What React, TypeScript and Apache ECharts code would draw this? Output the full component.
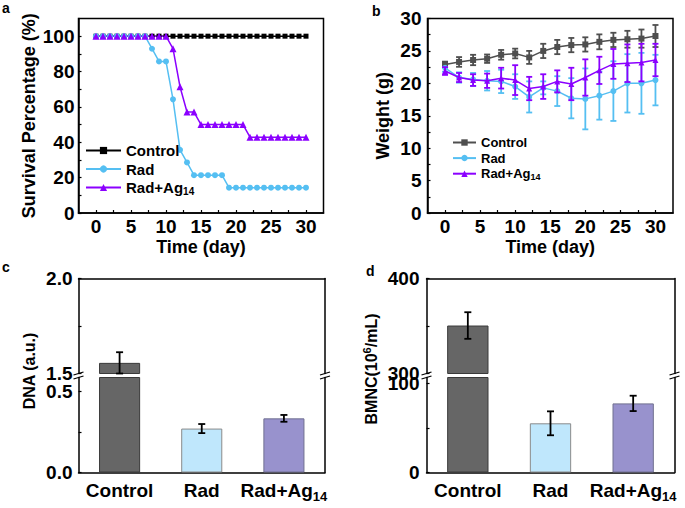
import React, { useEffect, useRef } from 'react';
import * as echarts from 'echarts';

const FONT = "'Liberation Sans', Arial, Helvetica, sans-serif";
const BLACK = '#000000';

// ---------- Panel a: survival ----------
const survivalDays = [0, 1, 2, 3, 4, 5, 6, 7, 8, 9, 10, 11, 12, 13, 14, 15, 16, 17, 18, 19, 20, 21, 22, 23, 24, 25, 26, 27, 28, 29, 30];
const survivalControl = [100, 100, 100, 100, 100, 100, 100, 100, 100, 100, 100, 100, 100, 100, 100, 100, 100, 100, 100, 100, 100, 100, 100, 100, 100, 100, 100, 100, 100, 100, 100];
const survivalRad = [100, 100, 100, 100, 100, 100, 100, 100, 92.9, 85.7, 85.7, 64.3, 35.7, 28.6, 21.4, 21.4, 21.4, 21.4, 21.4, 14.3, 14.3, 14.3, 14.3, 14.3, 14.3, 14.3, 14.3, 14.3, 14.3, 14.3, 14.3];
const survivalRadAg = [100, 100, 100, 100, 100, 100, 100, 100, 100, 100, 100, 92.9, 71.4, 57.1, 57.1, 50, 50, 50, 50, 50, 50, 50, 42.9, 42.9, 42.9, 42.9, 42.9, 42.9, 42.9, 42.9, 42.9];
const timeLabels = [0, 5, 10, 15, 20, 25, 30];
const timeTicks = [0, 2.5, 5, 7.5, 10, 12.5, 15, 17.5, 20, 22.5, 25, 27.5, 30];
const survivalYLabels = [0, 20, 40, 60, 80, 100];
const survivalYTicks = [0, 10, 20, 30, 40, 50, 60, 70, 80, 90, 100];

// ---------- Panel b: weight ----------
const weightDays = [0, 2, 4, 6, 8, 10, 12, 14, 16, 18, 20, 22, 24, 26, 28, 30];
const weightControl = [22.9, 23.3, 23.6, 23.8, 24.4, 24.6, 24.0, 25.0, 25.6, 25.9, 26.0, 26.4, 26.7, 26.8, 26.9, 27.3];
const weightControlErr = [0.45, 0.75, 0.8, 0.65, 0.75, 0.75, 1.0, 1.1, 1.1, 1.1, 1.1, 1.15, 1.1, 1.3, 1.4, 1.7];
const weightRad = [22.4, 20.9, 20.6, 20.4, 20.3, 19.5, 17.9, 19.3, 18.8, 17.7, 17.6, 18.1, 18.8, 20.0, 20.0, 20.5];
const weightRadErr = [0.6, 0.8, 1.0, 1.5, 1.8, 1.9, 2.4, 1.0, 2.3, 3.1, 4.7, 3.7, 4.6, 4.5, 4.7, 3.9];
const weightRadAg = [21.9, 20.9, 20.5, 20.4, 20.8, 20.5, 19.2, 19.5, 20.3, 19.9, 20.9, 22.0, 23.0, 23.1, 23.2, 23.6];
const weightRadAgErr = [0.6, 0.7, 0.9, 1.1, 1.6, 2.3, 1.8, 1.9, 1.7, 2.5, 2.8, 2.1, 2.3, 2.9, 2.9, 2.5];
const weightYLabels = [0, 5, 10, 15, 20, 25, 30];
const weightYTicks = [0, 2.5, 5, 7.5, 10, 12.5, 15, 17.5, 20, 22.5, 25, 27.5, 30];

// ---------- Panels c, d: bars ----------
const groups = ['Control', 'Rad', 'Rad+Ag14'];
const dnaValues = [1.556, 0.271, 0.334];
const dnaErrors = [0.056, 0.028, 0.021];
const dnaUpperLabels = [1.5, 2.0];
const dnaUpperTicks = [1.5, 1.75, 2.0];
const dnaLowerLabels = [0, 0.5];
const dnaLowerTicks = [0, 0.25, 0.5];
const bmncValues = [350.5, 55.1, 77.4];
const bmncErrors = [14, 13.4, 8.6];
const bmncUpperLabels = [300, 400];
const bmncUpperTicks = [300, 350, 400];
const bmncLowerLabels = [0, 100];
const bmncLowerTicks = [0, 50, 100];

const barFills = ['#666666', '#BFE7FC', '#9892CD'];
const barBorders = ['#3a3a3a', '#8a8a8a', '#707090'];

const COL_CTRL_A = '#000000';
const COL_CTRL_B = '#4f4f4f';
const COL_RAD = '#55BFF2';
const COL_AG = '#8B00FF';

function buildOption() {
  const lbl = (size: number, extra: any = {}) => ({
    color: BLACK, fontFamily: FONT, fontWeight: 'bold', fontSize: size, ...extra,
  });
  const axLine = { show: true, onZero: false, lineStyle: { color: BLACK, width: 1.5 } };
  const noLine = { show: false };
  const tick = (vals: number[]) => ({ show: true, inside: true, length: 3, customValues: vals, lineStyle: { color: BLACK, width: 1.2 } });

  const legendFmt = (name: string) => {
    const n = name.trim();
    return n === 'Rad+Ag14' ? '{n|Rad+Ag}{s|14}' : `{n|${n}}`;
  };
  const catFmt = (v: string) => (v === 'Rad+Ag14' ? '{n|Rad+Ag}{s|14}' : `{n|${v}}`);
  const catRich = {
    n: { fontSize: 19, fontWeight: 'bold', fontFamily: FONT, color: BLACK, lineHeight: 24 },
    s: { fontSize: 13, fontWeight: 'bold', fontFamily: FONT, color: BLACK, verticalAlign: 'bottom', lineHeight: 13 },
  };

  const errSeries = (
    xi: number, yi: number, data: number[][], color: string, lw: number, cap: number, lo: number, hi: number, name: string,
  ) => ({
    type: 'custom', name, xAxisIndex: xi, yAxisIndex: yi, data, z: 4,
    encode: { x: 0, y: [1, 2] },
    renderItem: (_p: any, api: any) => {
      const mean = api.value(3);
      if (!(mean >= lo && mean <= hi)) return null;
      const x = api.value(0);
      const top = api.coord([x, api.value(2)]);
      const bot = api.coord([x, api.value(1)]);
      const st = { stroke: color, lineWidth: lw };
      return {
        type: 'group',
        children: [
          { type: 'line', shape: { x1: top[0], y1: top[1], x2: bot[0], y2: bot[1] }, style: st },
          { type: 'line', shape: { x1: top[0] - cap, y1: top[1], x2: top[0] + cap, y2: top[1] }, style: st },
          { type: 'line', shape: { x1: bot[0] - cap, y1: bot[1], x2: bot[0] + cap, y2: bot[1] }, style: st },
        ],
      };
    },
  });

  const wErr = (vals: number[], errs: number[]) => weightDays.map((d, i) => [d, vals[i] - errs[i], vals[i] + errs[i], vals[i]]);
  const bErr = (vals: number[], errs: number[]) => groups.map((_g, i) => [i, vals[i] - errs[i], vals[i] + errs[i], vals[i]]);

  const barData = (vals: number[], minShown: number) => vals.map((v, i) => ({
    value: v >= minShown ? v : '-',
    itemStyle: { color: barFills[i], borderColor: barBorders[i], borderWidth: 1 },
  }));

  const dnaUpper = [1.5, 2.0];
  const dnaLower = [0, 0.586];
  const bmncUpper = [300, 400];
  const bmncLower = [0, 106.4];

  const breakMarks: any[] = [];
  [78.5, 325, 426.5, 674.5].forEach((ax) => {
    breakMarks.push({ type: 'line', shape: { x1: ax - 5, y1: 375, x2: ax + 5, y2: 372 }, style: { stroke: BLACK, lineWidth: 1.3 } });
    breakMarks.push({ type: 'line', shape: { x1: ax - 5, y1: 379, x2: ax + 5, y2: 376 }, style: { stroke: BLACK, lineWidth: 1.3 } });
  });

  const letter = (t: string, x: number, y: number) => ({
    type: 'text', x, y, style: { text: t, fontSize: 14, fontWeight: 'bold', fontFamily: FONT, fill: BLACK, align: 'left', verticalAlign: 'middle' },
  });

  const gridBase = { outerBoundsMode: 'none', containLabel: false };
  const catLabel = { formatter: catFmt, rich: catRich, margin: 6, color: BLACK, interval: 0, hideOverlap: false };

  return {
    animation: false,
    backgroundColor: '#ffffff',
    textStyle: { fontFamily: FONT },
    grid: [
      { ...gridBase, left: 78.5, top: 18.5, width: 245, height: 194.5, show: true, borderColor: BLACK, borderWidth: 1.5, backgroundColor: 'transparent' },
      { ...gridBase, left: 427.5, top: 18.5, width: 245.5, height: 194.5, show: true, borderColor: BLACK, borderWidth: 1.5, backgroundColor: 'transparent' },
      { ...gridBase, left: 78.5, top: 278.5, width: 246.5, height: 95 },
      { ...gridBase, left: 78.5, top: 377.5, width: 246.5, height: 95 },
      { ...gridBase, left: 426.5, top: 278.5, width: 248, height: 95 },
      { ...gridBase, left: 426.5, top: 377.5, width: 248, height: 95 },
    ],
    xAxis: [
      {
        gridIndex: 0, type: 'value', min: -2.5, max: 32.5, position: 'bottom',
        axisLine: axLine, axisTick: tick(timeTicks), splitLine: { show: false },
        axisLabel: { customValues: timeLabels, margin: 4, ...lbl(19) },
        name: 'Time (day)', nameLocation: 'middle', nameGap: 25, nameTextStyle: lbl(18),
      },
      {
        gridIndex: 1, type: 'value', min: -2.5, max: 32.5, position: 'bottom',
        axisLine: axLine, axisTick: tick(timeTicks), splitLine: { show: false },
        axisLabel: { customValues: timeLabels, margin: 4, ...lbl(19) },
        name: 'Time (day)', nameLocation: 'middle', nameGap: 25, nameTextStyle: lbl(18),
      },
      { gridIndex: 2, type: 'category', data: groups, position: 'bottom', axisLine: noLine, axisTick: { show: false }, axisLabel: { show: false }, splitLine: { show: false } },
      {
        gridIndex: 3, type: 'category', data: groups, position: 'bottom', axisLine: axLine, axisTick: { show: false }, splitLine: { show: false },
        axisLabel: catLabel,
      },
      { gridIndex: 4, type: 'category', data: groups, position: 'bottom', axisLine: noLine, axisTick: { show: false }, axisLabel: { show: false }, splitLine: { show: false } },
      {
        gridIndex: 5, type: 'category', data: groups, position: 'bottom', axisLine: axLine, axisTick: { show: false }, splitLine: { show: false },
        axisLabel: catLabel,
      },
      { gridIndex: 2, type: 'category', data: groups, position: 'top', axisLine: axLine, axisTick: { show: false }, axisLabel: { show: false }, splitLine: { show: false } },
      { gridIndex: 4, type: 'category', data: groups, position: 'top', axisLine: axLine, axisTick: { show: false }, axisLabel: { show: false }, splitLine: { show: false } },
    ],
    yAxis: [
      {
        gridIndex: 0, type: 'value', min: 0, max: 110, position: 'left',
        axisLine: axLine, axisTick: tick(survivalYTicks), splitLine: { show: false },
        axisLabel: { customValues: survivalYLabels, margin: 4, ...lbl(19) },
        name: 'Survival Percentage (%)', nameLocation: 'middle', nameGap: 41, nameTextStyle: lbl(18),
      },
      {
        gridIndex: 1, type: 'value', min: 0, max: 30, position: 'left',
        axisLine: axLine, axisTick: tick(weightYTicks), splitLine: { show: false },
        axisLabel: { customValues: weightYLabels, margin: 6, ...lbl(19) },
        name: 'Weight (g)', nameLocation: 'middle', nameGap: 36, nameTextStyle: lbl(18),
      },
      {
        gridIndex: 2, type: 'value', min: dnaUpper[0], max: dnaUpper[1], position: 'left',
        axisLine: axLine, axisTick: tick(dnaUpperTicks), splitLine: { show: false },
        axisLabel: { customValues: dnaUpperLabels, margin: 6, formatter: (v: number) => v.toFixed(1), ...lbl(19) },
      },
      {
        gridIndex: 3, type: 'value', min: dnaLower[0], max: dnaLower[1], position: 'left',
        axisLine: axLine, axisTick: tick(dnaLowerTicks), splitLine: { show: false },
        axisLabel: { customValues: dnaLowerLabels, margin: 6, formatter: (v: number) => v.toFixed(1), ...lbl(19) },
      },
      {
        gridIndex: 4, type: 'value', min: bmncUpper[0], max: bmncUpper[1], position: 'left',
        axisLine: axLine, axisTick: tick(bmncUpperTicks), splitLine: { show: false },
        axisLabel: { customValues: bmncUpperLabels, margin: 7, formatter: (v: number) => String(v), ...lbl(19) },
      },
      {
        gridIndex: 5, type: 'value', min: bmncLower[0], max: bmncLower[1], position: 'left',
        axisLine: axLine, axisTick: tick(bmncLowerTicks), splitLine: { show: false },
        axisLabel: { customValues: bmncLowerLabels, margin: 7, formatter: (v: number) => String(v), ...lbl(19) },
      },
      { gridIndex: 2, type: 'value', min: 0, max: 1, position: 'right', axisLine: axLine, axisTick: { show: false }, axisLabel: { show: false }, splitLine: { show: false } },
      { gridIndex: 3, type: 'value', min: 0, max: 1, position: 'right', axisLine: axLine, axisTick: { show: false }, axisLabel: { show: false }, splitLine: { show: false } },
      { gridIndex: 4, type: 'value', min: 0, max: 1, position: 'right', axisLine: axLine, axisTick: { show: false }, axisLabel: { show: false }, splitLine: { show: false } },
      { gridIndex: 5, type: 'value', min: 0, max: 1, position: 'right', axisLine: axLine, axisTick: { show: false }, axisLabel: { show: false }, splitLine: { show: false } },
    ],
    legend: [
      {
        data: ['Control', 'Rad', 'Rad+Ag14'], orient: 'vertical', left: 85, top: 143, padding: 0,
        itemWidth: 35, itemHeight: 9, itemGap: 3.5, selectedMode: false, formatter: legendFmt,
        textStyle: {
          color: BLACK, fontFamily: FONT, fontWeight: 'bold', fontSize: 15,
          rich: {
            n: { fontSize: 15, fontWeight: 'bold', fontFamily: FONT, color: BLACK, lineHeight: 18 },
            s: { fontSize: 10, fontWeight: 'bold', fontFamily: FONT, color: BLACK, verticalAlign: 'bottom', lineHeight: 10 },
          },
        },
      },
      {
        data: ['Control ', 'Rad ', 'Rad+Ag14 '], orient: 'vertical', left: 452, top: 136, padding: 0,
        itemWidth: 23, itemHeight: 8, itemGap: 2.6, selectedMode: false, formatter: legendFmt,
        textStyle: {
          color: BLACK, fontFamily: FONT, fontWeight: 'bold', fontSize: 13,
          rich: {
            n: { fontSize: 13, fontWeight: 'bold', fontFamily: FONT, color: BLACK, lineHeight: 15 },
            s: { fontSize: 9, fontWeight: 'bold', fontFamily: FONT, color: BLACK, verticalAlign: 'bottom', lineHeight: 9 },
          },
        },
      },
    ],
    series: [
      // panel a
      {
        type: 'line', name: 'Control', xAxisIndex: 0, yAxisIndex: 0,
        data: survivalDays.map((d, i) => [d, survivalControl[i]]),
        symbol: 'rect', symbolSize: 5, itemStyle: { color: COL_CTRL_A }, lineStyle: { color: COL_CTRL_A, width: 1.5 },
      },
      {
        type: 'line', name: 'Rad', xAxisIndex: 0, yAxisIndex: 0,
        data: survivalDays.map((d, i) => [d, survivalRad[i]]),
        symbol: 'circle', symbolSize: 6, itemStyle: { color: COL_RAD }, lineStyle: { color: COL_RAD, width: 1.5 },
      },
      {
        type: 'line', name: 'Rad+Ag14', xAxisIndex: 0, yAxisIndex: 0,
        data: survivalDays.map((d, i) => [d, survivalRadAg[i]]),
        symbol: 'triangle', symbolSize: 7, itemStyle: { color: COL_AG }, lineStyle: { color: COL_AG, width: 1.5 },
      },
      // panel b
      errSeries(1, 1, wErr(weightControl, weightControlErr), COL_CTRL_B, 1.8, 3, -1, 99, 'eC'),
      {
        type: 'line', name: 'Control ', xAxisIndex: 1, yAxisIndex: 1, z: 5,
        data: weightDays.map((d, i) => [d, weightControl[i]]),
        symbol: 'rect', symbolSize: 6, itemStyle: { color: COL_CTRL_B }, lineStyle: { color: COL_CTRL_B, width: 1.5 },
      },
      errSeries(1, 1, wErr(weightRad, weightRadErr), COL_RAD, 1.8, 3, -1, 99, 'eR'),
      {
        type: 'line', name: 'Rad ', xAxisIndex: 1, yAxisIndex: 1, z: 5,
        data: weightDays.map((d, i) => [d, weightRad[i]]),
        symbol: 'circle', symbolSize: 6, itemStyle: { color: COL_RAD }, lineStyle: { color: COL_RAD, width: 1.5 },
      },
      { ...errSeries(1, 1, wErr(weightRadAg, weightRadAgErr), COL_AG, 1.8, 3, -1, 99, 'eA'), z: 6 },
      {
        type: 'line', name: 'Rad+Ag14 ', xAxisIndex: 1, yAxisIndex: 1, z: 7,
        data: weightDays.map((d, i) => [d, weightRadAg[i]]),
        symbol: 'triangle', symbolSize: 6, itemStyle: { color: COL_AG }, lineStyle: { color: COL_AG, width: 1.5 },
      },
      // panel c
      { type: 'bar', name: 'DNA', xAxisIndex: 2, yAxisIndex: 2, barWidth: '50%', clip: true, data: barData(dnaValues, dnaUpper[0]) },
      { type: 'bar', name: 'DNA', xAxisIndex: 3, yAxisIndex: 3, barWidth: '50%', clip: true, data: barData(dnaValues, -Infinity) },
      errSeries(2, 2, bErr(dnaValues, dnaErrors), BLACK, 1.8, 3.5, dnaUpper[0], dnaUpper[1], 'eDU'),
      errSeries(3, 3, bErr(dnaValues, dnaErrors), BLACK, 1.8, 3.5, dnaLower[0], dnaLower[1], 'eDL'),
      // panel d
      { type: 'bar', name: 'BMNC', xAxisIndex: 4, yAxisIndex: 4, barWidth: '50%', clip: true, data: barData(bmncValues, bmncUpper[0]) },
      { type: 'bar', name: 'BMNC', xAxisIndex: 5, yAxisIndex: 5, barWidth: '50%', clip: true, data: barData(bmncValues, -Infinity) },
      errSeries(4, 4, bErr(bmncValues, bmncErrors), BLACK, 1.8, 3.5, bmncUpper[0], bmncUpper[1], 'eBU'),
      errSeries(5, 5, bErr(bmncValues, bmncErrors), BLACK, 1.8, 3.5, bmncLower[0], bmncLower[1], 'eBL'),
    ],
    graphic: [
      letter('a', 2, 8),
      letter('b', 372, 10.5),
      letter('c', 2, 267),
      letter('d', 366, 270.5),
      {
        type: 'text', x: 29, y: 371, rotation: Math.PI / 2,
        style: { text: 'DNA (a.u.)', fontSize: 16, fontWeight: 'bold', fontFamily: FONT, fill: BLACK, align: 'center', verticalAlign: 'middle' },
      },
      {
        type: 'text', x: 371, y: 369, rotation: Math.PI / 2,
        style: {
          text: '{t|BMNC(10}{p|6}{t|/mL)}', align: 'center', verticalAlign: 'middle', fill: BLACK,
          rich: {
            t: { fontSize: 16, fontWeight: 'bold', fontFamily: FONT, fill: BLACK, lineHeight: 20 },
            p: { fontSize: 11, fontWeight: 'bold', fontFamily: FONT, fill: BLACK, verticalAlign: 'top', lineHeight: 11 },
          },
        },
      },
      ...breakMarks,
    ],
  };
}

export default function App() {
  const ref = useRef<HTMLDivElement>(null);
  useEffect(() => {
    if (!ref.current) return;
    const chart = echarts.init(ref.current, undefined, { renderer: 'svg' });
    chart.setOption(buildOption() as any);
    return () => chart.dispose();
  }, []);
  return (
    <div
      ref={ref}
      style={{ position: 'fixed', left: 0, top: 0, width: 685, height: 508, background: '#ffffff' }}
    />
  );
}
